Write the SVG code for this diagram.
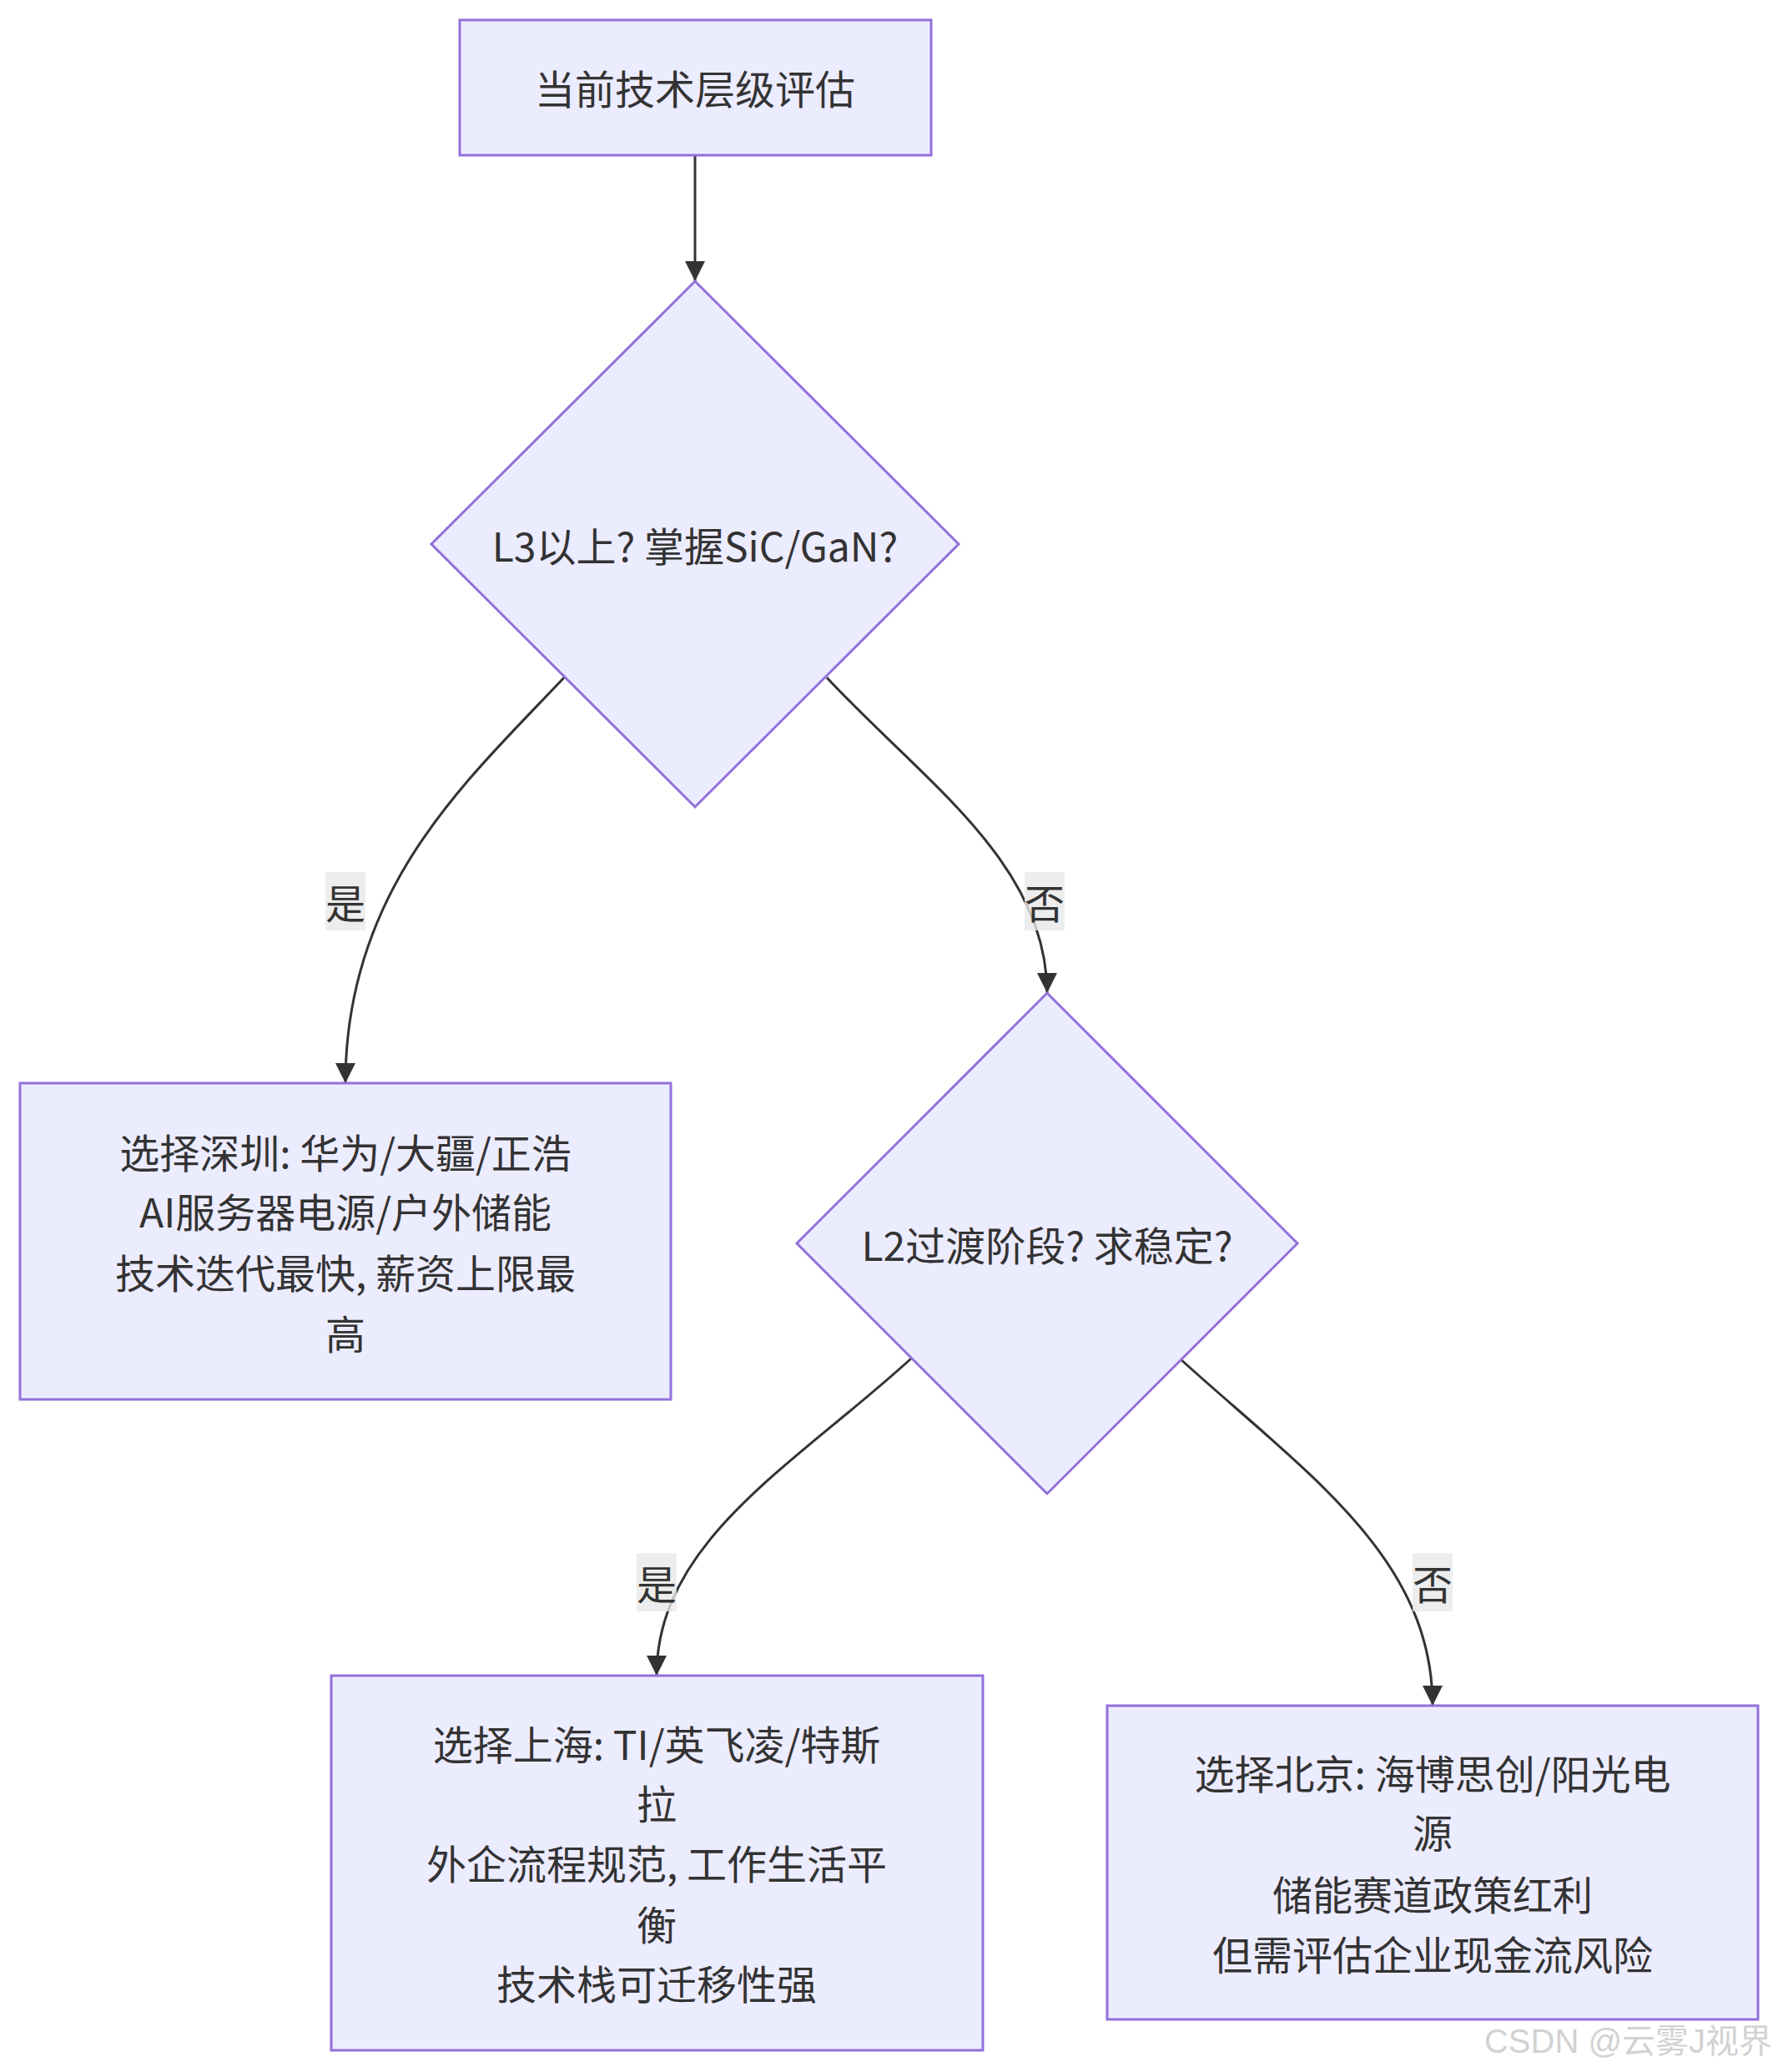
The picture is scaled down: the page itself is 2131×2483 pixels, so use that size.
<svg xmlns="http://www.w3.org/2000/svg" width="2131" height="2483" viewBox="0 0 2131 2483">
<style>
.node rect, .node polygon { fill: #ECECFF; stroke: #9370DB; stroke-width: 3; }
.node text { font-family: "Noto Sans CJK SC", "Noto Sans", sans-serif; font-size: 48px; fill: #333333; text-anchor: middle; dominant-baseline: central; }
.edge { fill: none; stroke: #333333; stroke-width: 3; marker-end: url(#arrow); }
.lbl rect { fill: #E8E8E8; fill-opacity: 0.8; }
.lbl text { font-family: "Noto Sans CJK SC", "Noto Sans", sans-serif; font-size: 48px; fill: #333333; text-anchor: middle; dominant-baseline: central; }
.wm { font-family: "Liberation Sans", "Noto Sans CJK SC", sans-serif; font-size: 40px; fill: #D2D2D2; text-anchor: end; }
</style>
<defs>
<marker id="arrow" viewBox="0 0 10 10" refX="10" refY="5" markerUnits="userSpaceOnUse" markerWidth="24" markerHeight="24" orient="auto">
<path d="M0,0 L10,5 L0,10 z" fill="#333333"/>
</marker>
</defs>
<rect width="2131" height="2483" fill="#FFFFFF"/>
<g id="edges">
<path class="edge" d="M833,186 L833,337"/>
<path class="edge" d="M676,812 C562,933 414,1063 414,1298"/>
<path class="edge" d="M991,812 C1103,933 1255,1033 1255,1190"/>
<path class="edge" d="M1092,1628 C953,1755 787,1846 787,2008"/>
<path class="edge" d="M1414,1628 C1565,1765 1717,1866 1717,2044"/>
</g>
<g id="edge-labels">
<g class="lbl" id="label-yes-1"><rect x="390" y="1045" width="48" height="70"/><text x="414" y="1080">是</text></g>
<g class="lbl" id="label-no-1"><rect x="1228" y="1045" width="48" height="70"/><text x="1252" y="1080">否</text></g>
<g class="lbl" id="label-yes-2"><rect x="763" y="1861" width="48" height="70"/><text x="787" y="1896">是</text></g>
<g class="lbl" id="label-no-2"><rect x="1693" y="1861" width="48" height="70"/><text x="1717" y="1896">否</text></g>
</g>
<g class="node" id="node-start">
<rect x="551" y="24" width="565" height="162"/>
<text x="833" y="104">当前技术层级评估</text>
</g>
<g class="node" id="node-q1">
<polygon points="833,337 1149,652 833,967 517,652"/>
<text x="833" y="652">L3以上? 掌握SiC/GaN?</text>
</g>
<g class="node" id="node-shenzhen">
<rect x="24" y="1298" width="780" height="379"/>
<text x="414" y="1379">选择深圳: 华为/大疆/正浩</text>
<text x="414" y="1450">AI服务器电源/户外储能</text>
<text x="414" y="1523">技术迭代最快, 薪资上限最</text>
<text x="414" y="1596">高</text>
</g>
<g class="node" id="node-q2">
<polygon points="1255,1190 1555,1490 1255,1790 955,1490"/>
<text x="1255" y="1490">L2过渡阶段? 求稳定?</text>
</g>
<g class="node" id="node-shanghai">
<rect x="397" y="2008" width="781" height="449"/>
<text x="787" y="2088">选择上海: TI/英飞凌/特斯</text>
<text x="787" y="2159">拉</text>
<text x="787" y="2231">外企流程规范, 工作生活平</text>
<text x="787" y="2304">衡</text>
<text x="787" y="2375">技术栈可迁移性强</text>
</g>
<g class="node" id="node-beijing">
<rect x="1327" y="2044" width="780" height="376"/>
<text x="1717" y="2123">选择北京: 海博思创/阳光电</text>
<text x="1717" y="2194">源</text>
<text x="1717" y="2268">储能赛道政策红利</text>
<text x="1717" y="2340">但需评估企业现金流风险</text>
</g>
<text class="wm" x="2124" y="2460">CSDN @云雾J视界</text>
</svg>
